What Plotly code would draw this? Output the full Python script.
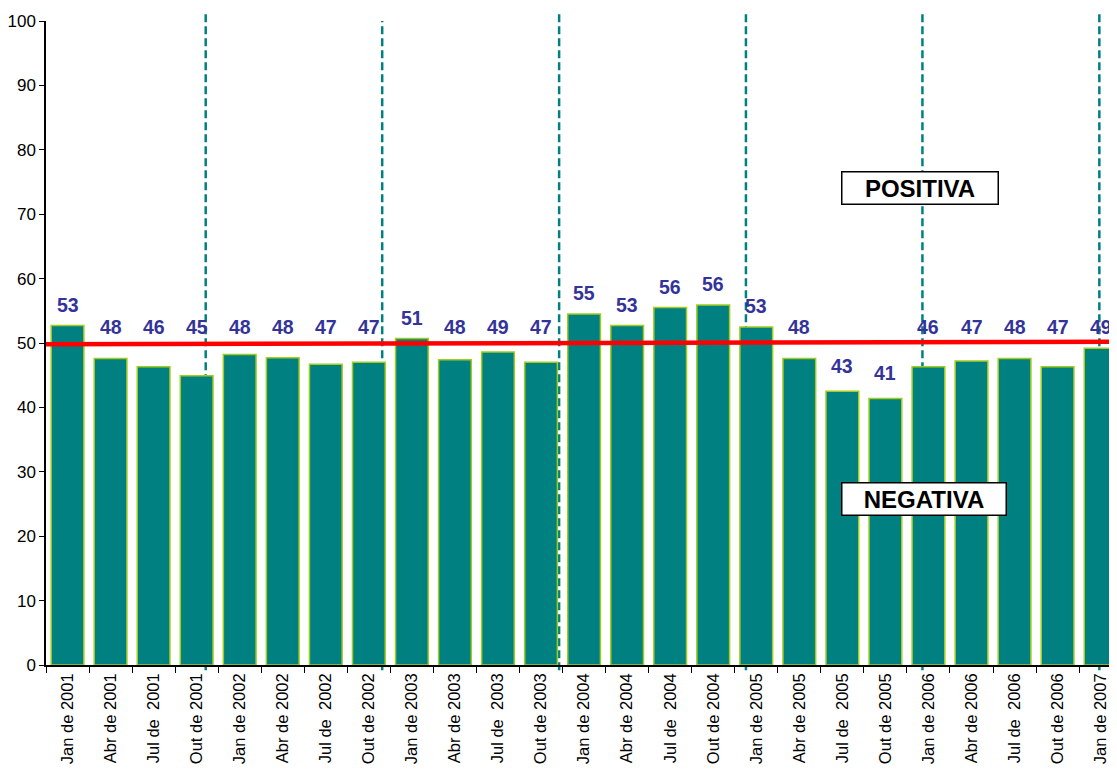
import plotly.graph_objects as go

# ---- data ----
categorias = [
    "Jan de 2001", "Abr de 2001", "Jul de\u00a0 2001", "Out de 2001",
    "Jan de 2002", "Abr de 2002", "Jul de\u00a0 2002", "Out de 2002",
    "Jan de 2003", "Abr de 2003", "Jul de\u00a0 2003", "Out de 2003",
    "Jan de 2004", "Abr de 2004", "Jul de\u00a0 2004", "Out de 2004",
    "Jan de 2005", "Abr de 2005", "Jul de\u00a0 2005", "Out de 2005",
    "Jan de 2006", "Abr de 2006", "Jul de\u00a0 2006", "Out de 2006",
    "Jan de 2007",
]
valores = [52.7, 47.6, 46.3, 44.9, 48.2, 47.7, 46.7, 47.0, 50.7, 47.4, 48.6, 47.0,
           54.5, 52.7, 55.5, 55.9, 52.5, 47.6, 42.5, 41.4, 46.3, 47.2, 47.6, 46.3, 49.2]
rotulos = [53, 48, 46, 45, 48, 48, 47, 47, 51, 48, 49, 47,
           55, 53, 56, 56, 53, 48, 43, 41, 46, 47, 48, 47, 49]
# vertical event markers (in category-index units)
marcos = [3.21, 7.31, 11.42, 15.76, 19.86, 23.97]
marcos_topo = [1.014, 1.0, 1.014, 1.015, 1.014, 1.014]
linha_ref = [49.8, 50.2]
y_ticks = list(range(0, 101, 10))

FONT = "Arial, Liberation Sans, sans-serif"

fig = go.Figure()
fig.add_trace(go.Bar(
    x=categorias, y=valores,
    marker=dict(color="#008080", line=dict(color="#A2CC1C", width=1.5)),
    hoverinfo="x+y",
))

# value labels
for i, (v, r) in enumerate(zip(valores, rotulos)):
    if v >= 50:
        ly = v + 3.2
    elif v < 44:
        ly = v + 3.9
    else:
        ly = 52.5
    fig.add_annotation(x=i, y=ly, xref="x", yref="y", text=f"<b>{r}</b>",
                       showarrow=False, yanchor="middle", xanchor="center",
                       font=dict(family=FONT, size=19.5, color="#333399"))

shapes = []
for m, top in zip(marcos, marcos_topo):
    shapes.append(dict(type="line", xref="x", yref="paper", x0=m, x1=m,
                       y0=-0.008, y1=top, layer="below",
                       line=dict(color="#008080", width=2.5, dash="8px,4px")))
shapes.append(dict(type="line", xref="x", yref="y", x0=-0.55, x1=24.5,
                   y0=linha_ref[0], y1=linha_ref[1], layer="above",
                   line=dict(color="#FF0000", width=4.5)))
fig.update_layout(shapes=shapes)

# text boxes
for txt, xc, yc, w in [("POSITIVA", 19.81, 74.07, 152), ("NEGATIVA", 19.9, 25.8, 160)]:
    fig.add_annotation(x=xc, y=yc, xref="x", yref="y", text=f"<b>{txt}</b>",
                       showarrow=False, xanchor="center", yanchor="middle",
                       width=w, height=28, borderpad=1.5, borderwidth=1.5,
                       bordercolor="#000000", bgcolor="#FFFFFF",
                       font=dict(family=FONT, size=24, color="#000000"))

# page body has an 8px margin: compensate so the plot lands where the reference has it
fig.update_layout(
    width=1109, height=762,
    margin=dict(l=38, r=0, t=13, b=105, pad=0),
    paper_bgcolor="white", plot_bgcolor="white",
    bargap=0.24, showlegend=False,
    font=dict(family=FONT, color="#000000"),
)
fig.update_xaxes(type="category", range=[-0.5, 24.38], tickson="boundaries",
                 ticks="outside", ticklen=6, tickcolor="#000000",
                 tickangle=-90, tickfont=dict(size=16.5, family=FONT, color="#000000"),
                 showline=True, linecolor="#000000", linewidth=1.5,
                 showgrid=False, automargin=False, fixedrange=True)
fig.update_yaxes(range=[0, 100], tickvals=y_ticks, ticks="outside", ticklen=5,
                 tickcolor="#000000", tickfont=dict(size=17, family=FONT, color="#000000"),
                 showline=True, linecolor="#000000", linewidth=1.5,
                 showgrid=False, zeroline=False, automargin=False, fixedrange=True)

fig.write_html("out.html")
